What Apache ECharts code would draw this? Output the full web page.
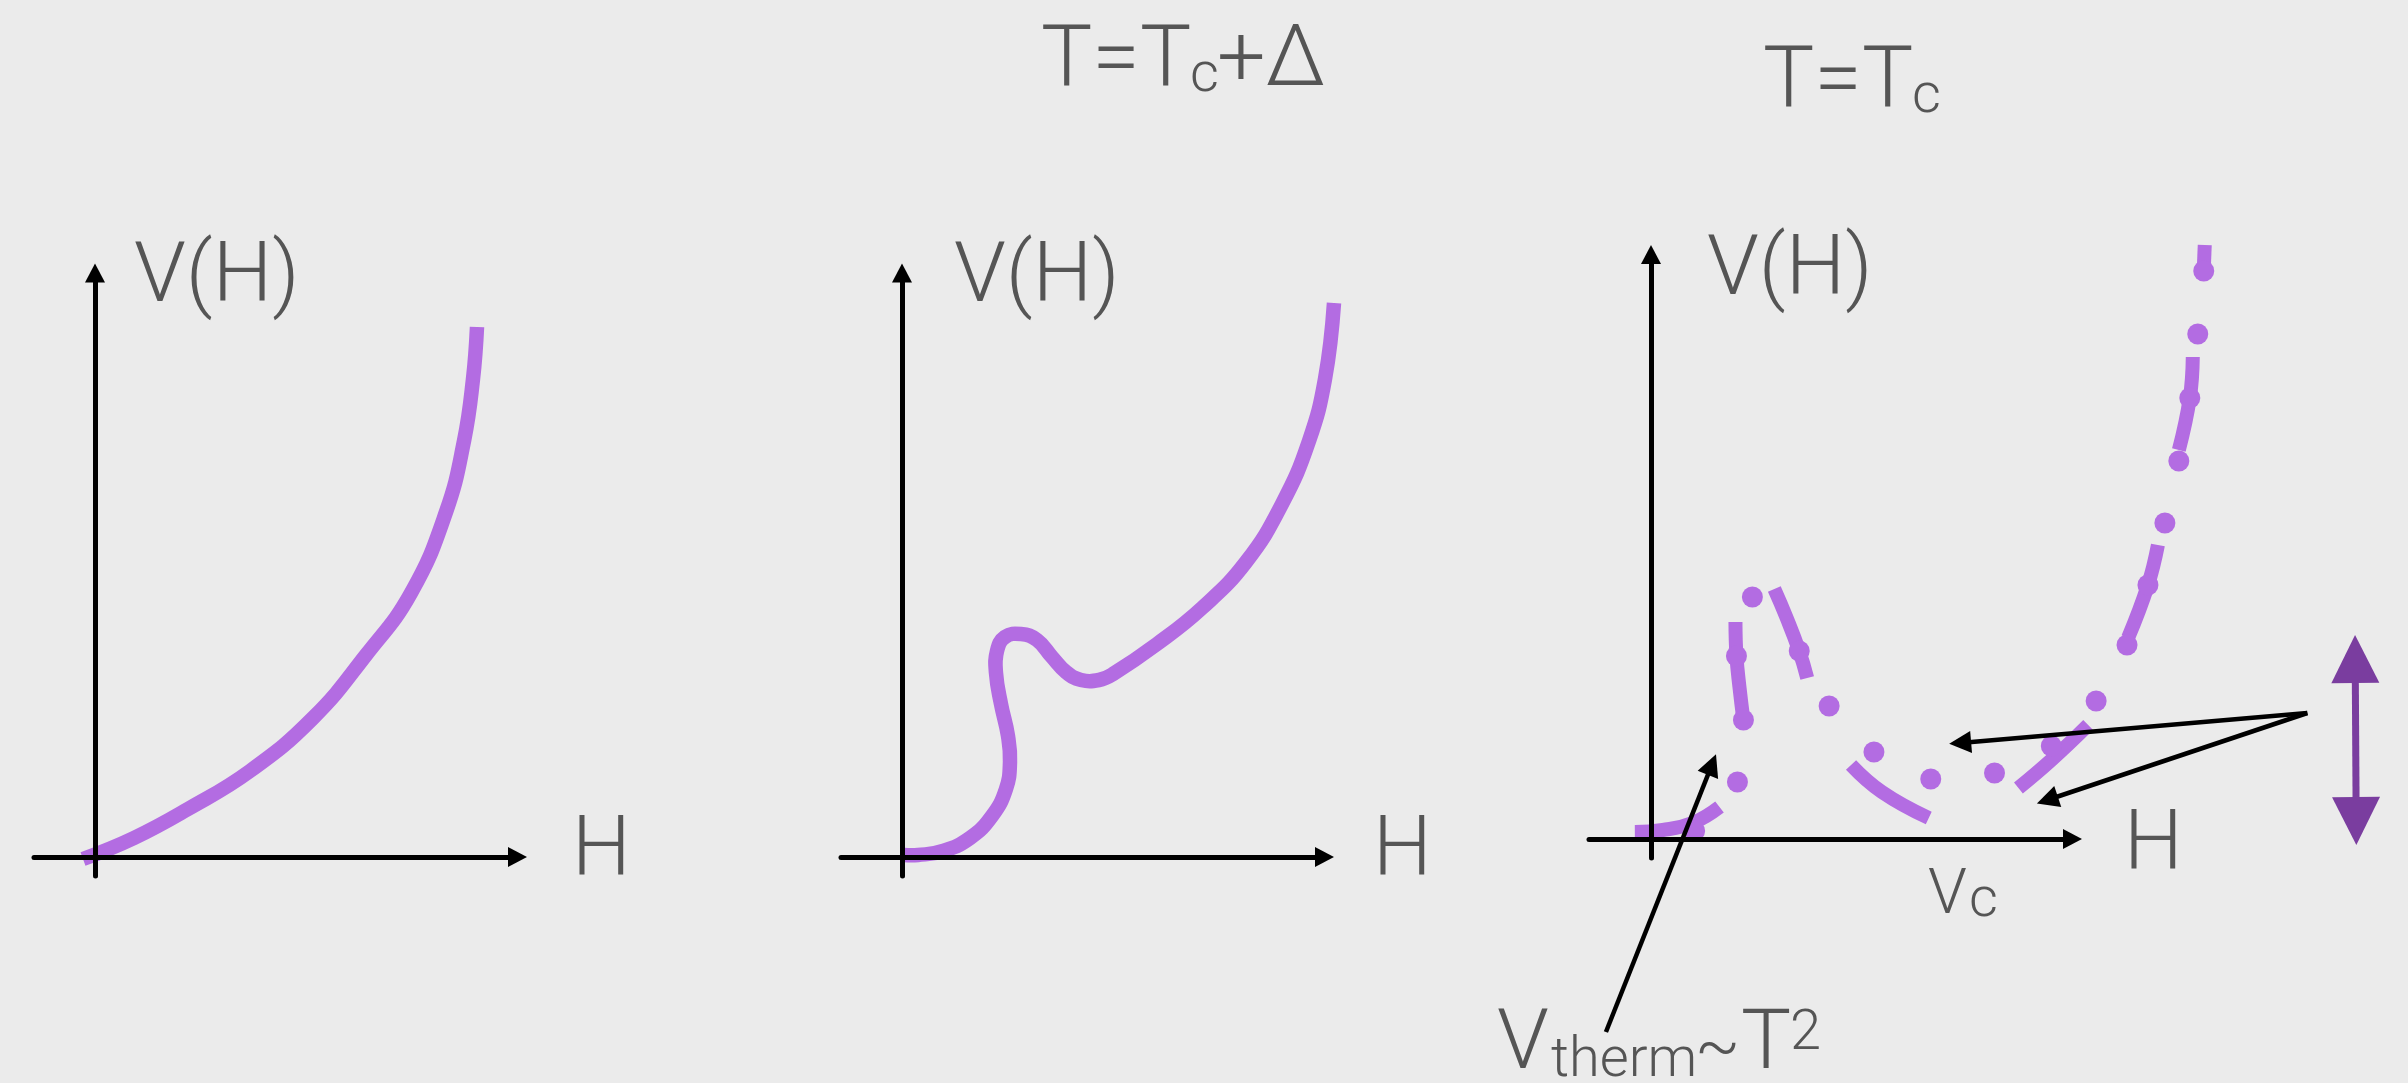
<!DOCTYPE html>
<html>
<head>
<meta charset="utf-8">
<title>V(H)</title>
<script src="https://cdn.jsdelivr.net/npm/echarts/dist/echarts.min.js"></script>
<style>
    html, body { margin: 0; padding: 0; background: #ebebeb; }
    #main { width: 2408px; height: 1083px; }
</style>
</head>
<body>
<div id="main"></div>
<script>

// panel 1 : T well above Tc, single minimum at H = 0  ([H, V] pairs)
var curveHot = [[-0.12, -0.02], [0.39, 0.19], [0.93, 0.48], [1.55, 0.86], [2.18, 1.39], [2.71, 2.02],
    [3.16, 2.64], [3.51, 3.45], [3.69, 4.16], [3.78, 4.78], [3.82, 5.30]];

// panel 2 : T = Tc + delta, bump and shoulder appear
var curveDelta = [[0.02, 0.02], [0.16, 0.02], [0.41, 0.06], [0.68, 0.19], [0.90, 0.41], [1.04, 0.68],
    [1.08, 0.95], [1.06, 1.21], [0.99, 1.53], [0.94, 1.84], [0.95, 2.06], [1.03, 2.20], [1.19, 2.23],
    [1.35, 2.17], [1.50, 2.00], [1.64, 1.85], [1.79, 1.77], [1.97, 1.77], [2.11, 1.83], [2.55, 2.13],
    [3.00, 2.49], [3.44, 2.95], [3.80, 3.53], [4.07, 4.16], [4.23, 4.78], [4.32, 5.54]];

// panel 3 : T = Tc, dash pieces of the dash-dot curve
var critDashes = [
    [[-0.16, 0.07], [0.12, 0.09], [0.42, 0.16], [0.69, 0.32]],
    [[0.93, 1.19], [0.89, 1.52], [0.86, 1.83], [0.85, 2.17]],
    [[1.24, 2.50], [1.36, 2.22], [1.49, 1.88], [1.57, 1.61]],
    [[2.01, 0.74], [2.32, 0.47], [2.79, 0.21]],
    [[3.69, 0.51], [4.02, 0.79], [4.39, 1.14]],
    [[4.79, 2.01], [4.99, 2.54], [5.09, 2.94]],
    [[5.30, 3.89], [5.41, 4.41], [5.44, 4.82]],
    [[5.55, 5.69], [5.56, 5.94]]
];

// panel 3 : dots of the dash-dot curve
var critDots = [[0.44, 0.08], [0.87, 0.57], [0.93, 1.19], [0.86, 1.83], [1.02, 2.42], [1.49, 1.88],
    [1.79, 1.33], [2.24, 0.87], [2.81, 0.60], [3.45, 0.66], [4.02, 0.93], [4.47, 1.38], [4.78, 1.94],
    [4.99, 2.54], [5.16, 3.16], [5.30, 3.78], [5.41, 4.41], [5.49, 5.05], [5.55, 5.68]];

// annotation arrows in panel 3 units (from, to)
var thermArrow = [[-0.45, -1.93], [0.614, 0.744]];
var shiftArrows = [
    [[6.59, 1.26], [3.105, 0.961]],
    [[6.59, 1.26], [3.98, 0.39]]
];
var liftArrow = [[7.07, 1.80], [7.08, 0.18]];

var PURPLE = '#b36ce2';
var TEXT = '#555555';
var FONT = 'Roboto';
var UNIT = 100;   // px per axis unit

var drawPanels = function () {

    var myChart = echarts.init(document.getElementById('main'));

    // axis origin (px) and axis ranges of each panel; panel 4 is a hidden overlay of panel 3
    var origins = [[95, 857], [902, 857], [1651, 839], [1651, 839]];
    var xRanges = [[-0.61, 4.225], [-0.61, 4.225], [-0.62, 4.215], [-0.62, 7.6]];
    var yRanges = [[-0.19, 5.84], [-0.19, 5.84], [-0.19, 5.845], [-2.2, 6.2]];

    var grids = origins.map(function (o, i) {
        return {
            left: o[0] + xRanges[i][0] * UNIT,
            top: o[1] - yRanges[i][1] * UNIT,
            width: (xRanges[i][1] - xRanges[i][0]) * UNIT,
            height: (yRanges[i][1] - yRanges[i][0]) * UNIT
        };
    });

    var axisLook = function (i, range) {
        return {
            type: 'value',
            gridIndex: i,
            min: range[0],
            max: range[1],
            show: i < 3,
            z: 5,
            axisLine: {
                show: true,
                onZero: true,
                symbol: ['none', 'triangle'],
                symbolSize: [20, 19],
                lineStyle: { color: '#000', width: 5 }
            },
            axisTick: { show: false },
            axisLabel: { show: false },
            splitLine: { show: false }
        };
    };

    // one smooth stroke through all points of a curve, placed with the axes' scales
    var curveSeries = function (i, data, width) {
        return {
            type: 'custom',
            coordinateSystem: 'cartesian2d',
            xAxisIndex: i,
            yAxisIndex: i,
            data: data,
            clip: false,
            renderItem: function (params, api) {
                if (params.dataIndex !== 0) {
                    return null;
                }
                var pts = data.map(function (p) { return api.coord(p); });
                return {
                    type: 'polyline',
                    shape: { points: pts, smooth: 0.45 },
                    style: { stroke: PURPLE, lineWidth: width, fill: null, lineCap: 'butt', lineJoin: 'round' }
                };
            }
        };
    };

    var label = function (text, x, y, size) {
        return {
            type: 'text',
            x: x,
            y: y,
            style: {
                text: text,
                fontSize: size,
                fontFamily: FONT,
                fontWeight: 300,
                fill: TEXT,
                align: 'left',
                verticalAlign: 'middle'
            }
        };
    };

    var series = [curveSeries(0, curveHot, 14.5), curveSeries(1, curveDelta, 14.5)];
    critDashes.forEach(function (d) {
        series.push(curveSeries(3, d, 14));
    });
    series.push({
        type: 'scatter',
        xAxisIndex: 3,
        yAxisIndex: 3,
        data: critDots,
        symbolSize: 21,
        clip: false,
        itemStyle: { color: PURPLE, opacity: 1 }
    });
    series.push({
        type: 'lines',
        coordinateSystem: 'cartesian2d',
        xAxisIndex: 3,
        yAxisIndex: 3,
        clip: false,
        z: 10,
        symbol: ['none', 'triangle'],
        symbolSize: 22,
        lineStyle: { color: '#000', width: 4.5, opacity: 1, curveness: 0 },
        data: [thermArrow].concat(shiftArrows).map(function (c) { return { coords: c }; })
    });
    series.push({
        type: 'lines',
        coordinateSystem: 'cartesian2d',
        xAxisIndex: 3,
        yAxisIndex: 3,
        clip: false,
        z: 10,
        symbol: ['triangle', 'triangle'],
        symbolSize: 48,
        lineStyle: { color: '#7a3d9f', width: 7, opacity: 1, curveness: 0 },
        data: [{ coords: liftArrow }]
    });

    var option = {
        backgroundColor: '#ebebeb',
        animation: false,
        grid: grids,
        xAxis: xRanges.map(function (r, i) { return axisLook(i, r); }),
        yAxis: yRanges.map(function (r, i) { return axisLook(i, r); }),
        series: series,
        graphic: [
            label('T=T', 1041, 63, 86),
            label('c', 1190, 77, 56),
            label('+\u0394', 1217, 63, 86),
            label('T=T', 1763, 84, 86),
            label('c', 1912, 98, 56),
            label('V(H)', 134, 280, 84),
            label('V(H)', 954, 280, 84),
            label('V(H)', 1707, 273, 84),
            label('H', 572, 854, 83),
            label('H', 1373, 854, 83),
            label('H', 2124, 848, 83),
            label('V', 1928, 897, 63),
            label('c', 1969, 902, 56),
            label('V', 1497, 1047, 84),
            label('therm', 1551, 1062, 56),
            label('~', 1695, 1051, 66),
            label('T', 1741, 1047, 84),
            label('2', 1790, 1035, 56)
        ]
    };

    myChart.setOption(option);

};

drawPanels();

</script>
</body>
</html>
